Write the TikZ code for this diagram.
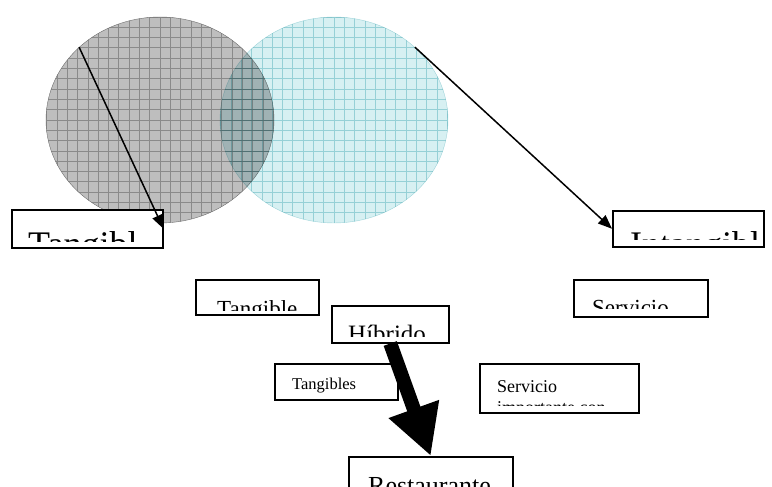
\documentclass[tikz,border=0pt]{standalone}
\usepackage{fontspec}
\setmainfont{Liberation Serif}
\usetikzlibrary{shapes.geometric, arrows.meta}
\definecolor{grisfondo}{RGB}{190,190,190}
\definecolor{grislinea}{RGB}{138,138,138}
\definecolor{grisborde}{RGB}{110,110,110}
\definecolor{azulfondo}{RGB}{215,240,242}
\definecolor{azullinea}{RGB}{178,222,226}

% texto recortado dentro de una caja
\newcommand{\textocorte}[6]{%
  \begin{scope}
    \clip ([shift={(1pt,-1pt)}]#1.north west) rectangle ([shift={(-1pt,#2)}]#1.south east);
    \node[texto, font=#5] (#3) at #4 {#6};
  \end{scope}}

\begin{document}
\begin{tikzpicture}[x=1pt, y=-1pt,
    caja/.style={rectangle, draw, fill=white, line width=1.5pt, anchor=north west, inner sep=0pt},
    texto/.style={anchor=base west, inner sep=0pt, align=left},
    circulo/.style={ellipse, minimum width=228pt, minimum height=206pt, inner sep=0pt},
    flecha/.style={-{Triangle[length=14pt,width=11pt]}, line width=1.5pt},
    flechagruesa/.style={-{Triangle[length=50pt,width=50pt]}, line width=14pt}
]
\path[use as bounding box, clip] (0,0) rectangle (772,487);

% conjuntos
\node[circulo, draw=grisborde, fill=grisfondo,
  path picture={\draw[grislinea, line width=0.8pt, step=10.3pt] (path picture bounding box.south west) grid (path picture bounding box.north east);}]
  (gris) at (160,120) {};
\begin{scope}[blend mode=multiply]
\node[circulo, draw=azullinea, fill=azulfondo,
  path picture={\draw[azullinea, line width=0.8pt, step=10.3pt] (path picture bounding box.south west) grid (path picture bounding box.north east);}]
  (azul) at (334,120) {};
\end{scope}

% cajas
\node[caja, minimum width=151pt, minimum height=38pt] (tangibl) at (11,209) {};
\node[caja, minimum width=151pt, minimum height=36pt] (intangibl) at (612,210) {};
\node[caja, minimum width=123pt, minimum height=35pt] (tangible) at (195,279) {};
\node[caja, minimum width=117pt, minimum height=37pt] (hibrido) at (331,305) {};
\node[caja, minimum width=134pt, minimum height=37pt] (servicio) at (573,279) {};
\node[caja, minimum width=123pt, minimum height=36pt] (tangibles) at (274,363) {};
\node[caja, minimum width=159pt, minimum height=49pt] (servimp) at (479,363) {};
\node[caja, minimum width=164pt, minimum height=44pt] (restaurante) at (348,456) {};

\textocorte{tangibl}{7pt}{t-tangibl}{(28,256)}{\fontsize{36}{40}\selectfont}{Tangibl}
\textocorte{intangibl}{8pt}{t-intangibl}{(630,256)}{\fontsize{36}{40}\selectfont}{Intangibl}
\textocorte{tangible}{5pt}{t-tangible}{(217,316)}{\fontsize{23}{26}\selectfont}{Tangible}
\textocorte{hibrido}{7pt}{t-hibrido}{(348,342)}{\fontsize{25}{28}\selectfont}{Híbrido}
\textocorte{servicio}{9pt}{t-servicio}{(592,315)}{\fontsize{23}{26}\selectfont}{Servicio}
\textocorte{tangibles}{5pt}{t-tangibles}{(292,389)}{\fontsize{16.5}{19}\selectfont}{Tangibles}
\textocorte{servimp}{8pt}{t-servimp}{(497,413)}{\fontsize{18}{21}\selectfont}{Servicio\\importante con}
\textocorte{restaurante}{0pt}{t-restaurante}{(368,494)}{\fontsize{26}{30}\selectfont}{Restaurante}

% flechas
\draw[flecha] (gris.138) -- (tangibl.east);
\draw[flecha] (azul.42) -- (intangibl.west);
\draw[flechagruesa] (hibrido.south) -- (restaurante.north);

\end{tikzpicture}
\end{document}
